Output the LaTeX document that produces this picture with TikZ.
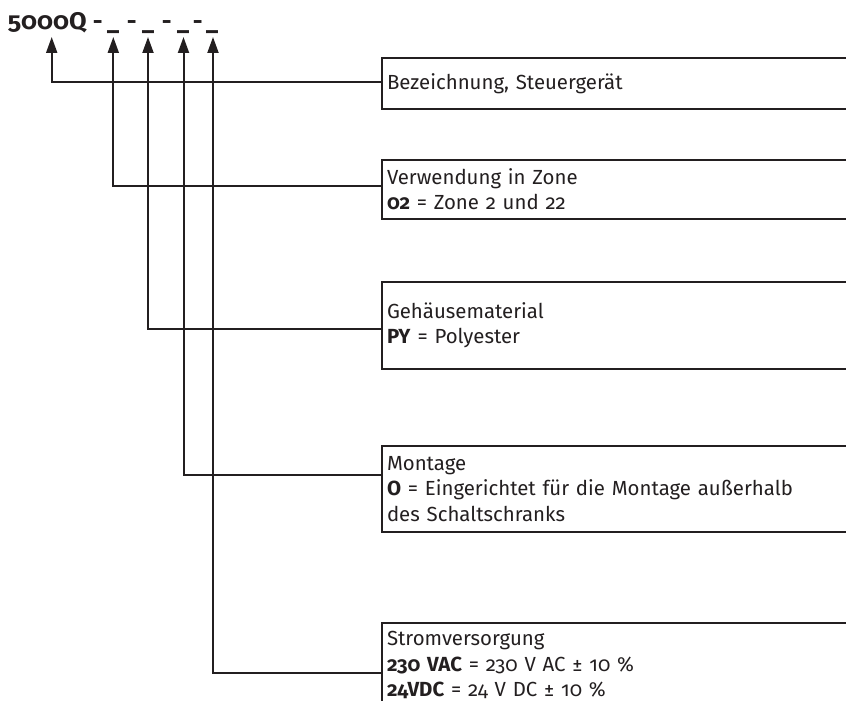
\documentclass[tikz,border=0pt]{standalone}
\usepackage{fontspec}
\setmainfont{Fira Sans}[Numbers=OldStyle]
\usetikzlibrary{arrows.meta}
\definecolor{ink}{HTML}{231F20}
\newcommand{\at}[2]{\rlap{\hspace*{#1}#2}}
\begin{document}
\begin{tikzpicture}[x=0.5pt,y=-0.5pt,
  box/.style={draw=ink, line width=1pt, anchor=north west, minimum width=240pt,
    text width=235pt, align=left, inner xsep=2.5pt, inner ysep=0pt,
    font=\fontsize{10.2}{12.8}\selectfont, text=ink},
  conn/.style={draw=ink, line width=1pt, -{Triangle[length=8pt,width=5.5pt]}},
  code/.style={anchor=base west, inner sep=0pt, text=ink,
    font=\fontsize{12}{13}\selectfont\bfseries}]
\useasboundingbox (0,0) rectangle (846,701);
\clip (0,0) rectangle (846,701);
\node[code] (code) at (7.5,29.5) {\rlap{\addfontfeature{FakeStretch=1.06}5000Q}%
  \at{42.5pt}{-}\at{49.5pt}{\_}\at{59.5pt}{-}\at{67pt}{\_}%
  \at{77pt}{-}\at{84.5pt}{\_}\at{92.5pt}{-}\at{99pt}{\_}\hspace*{106pt}};
\coordinate (t1) at (51.7,37);
\coordinate (t2) at (113.3,37);
\coordinate (t3) at (148,37);
\coordinate (t4) at (183.5,37);
\coordinate (t5) at (213,37);
\node[box, minimum height=25.5pt] (b1) at (381,57.3) {Bezeichnung, Steuergerät};
\node[box, minimum height=29.25pt] (b2) at (381,159) {Verwendung in Zone\\\textbf{02} = Zone 2 und 22};
\node[box, minimum height=43.75pt] (b3) at (381,280.5) {Gehäusematerial\\\textbf{PY} = Polyester};
\node[box, minimum height=43pt] (b4) at (381,445) {Montage\\\textbf{O} = Eingerichtet für die Montage außerhalb\\des Schaltschranks};
\node[box, minimum height=42pt] (b5) at (381,622) {Stromversorgung\\\textbf{230 VAC} = 230 V AC ± 10 \%\\\textbf{24VDC} = 24 V DC ± 10 \%};
\draw[conn] (b1.west |- 0,82) -| (t1);
\draw[conn] (b2.west |- 0,186) -| (t2);
\draw[conn] (b3.west |- 0,329) -| (t3);
\draw[conn] (b4.west |- 0,475) -| (t4);
\draw[conn] (b5.west |- 0,673) -| (t5);
\end{tikzpicture}
\end{document}
